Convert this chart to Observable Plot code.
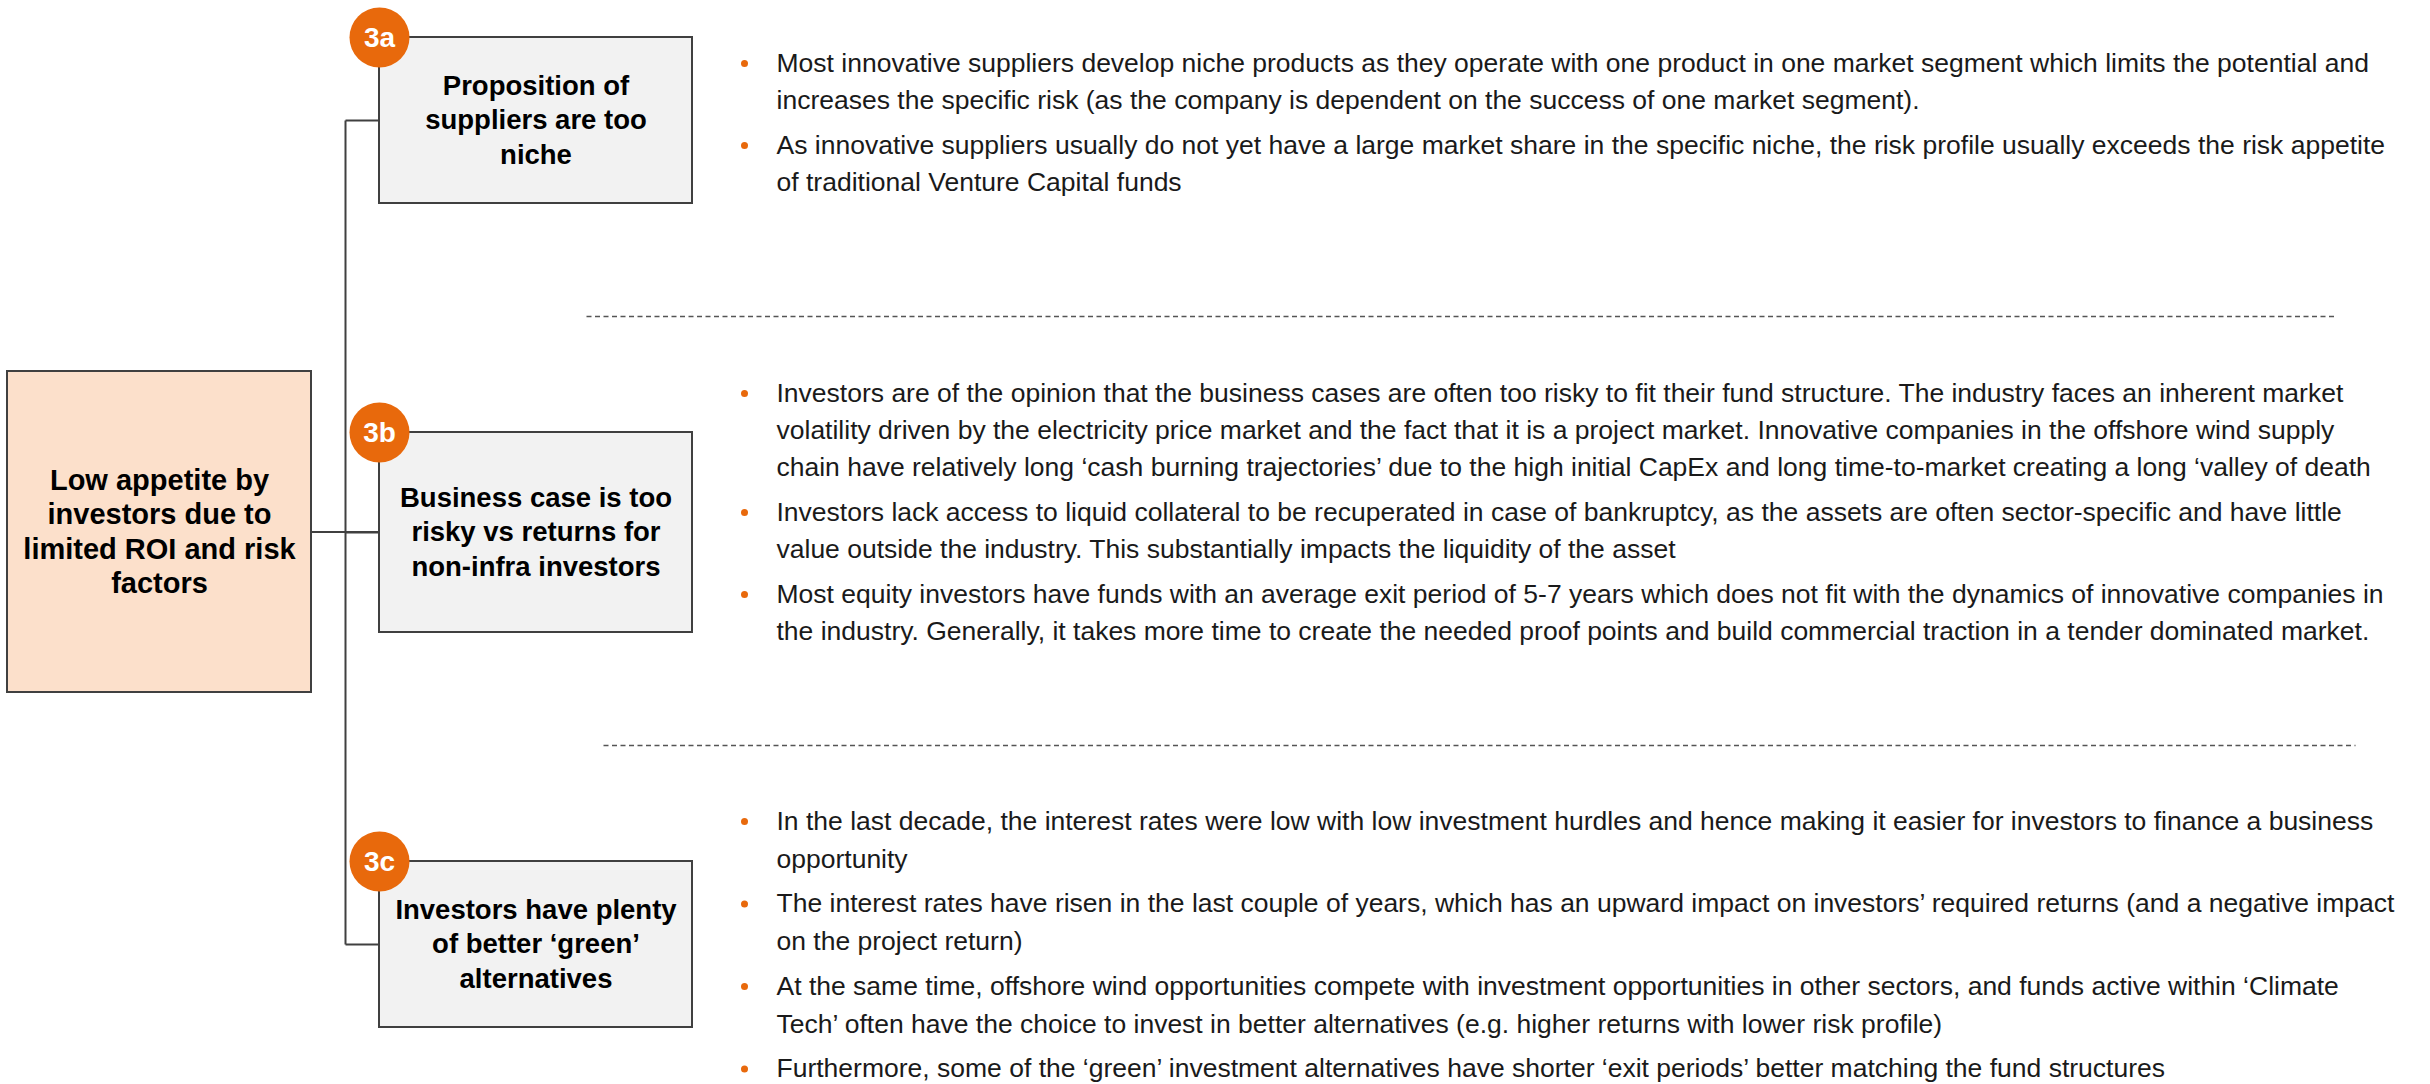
<!DOCTYPE html>
<html>
<head>
<meta charset="utf-8">
<script src="https://cdn.jsdelivr.net/npm/d3@7"></script>
<script src="https://cdn.jsdelivr.net/npm/@observablehq/plot@0.6"></script>
<style>
  html, body { margin: 0; padding: 0; background: #ffffff; }
  #chart svg { display: block; }
</style>
</head>
<body>
<div id="chart"></div>
<script>
// ---------- content ----------
const mainLabel = ["Low appetite by", "investors due to", "limited ROI and risk", "factors"];

const causeIds = ["3a", "3b", "3c"];

const causeLabels = [
  ["Proposition of", "suppliers are too", "niche"],
  ["Business case is too", "risky vs returns for", "non-infra investors"],
  ["Investors have plenty", "of better \u2018green\u2019", "alternatives"]
];

const bullets3a = [
  ["Most innovative suppliers develop niche products as they operate with one product in one market segment which limits the potential and",
   "increases the specific risk (as the company is dependent on the success of one market segment)."],
  ["As innovative suppliers usually do not yet have a large market share in the specific niche, the risk profile usually exceeds the risk appetite",
   "of traditional Venture Capital funds"]
];

const bullets3b = [
  ["Investors are of the opinion that the business cases are often too risky to fit their fund structure. The industry faces an inherent market",
   "volatility driven by the electricity price market and the fact that it is a project market. Innovative companies in the offshore wind supply",
   "chain have relatively long \u2018cash burning trajectories\u2019 due to the high initial CapEx and long time-to-market creating a long \u2018valley of death"],
  ["Investors lack access to liquid collateral to be recuperated in case of bankruptcy, as the assets are often sector-specific and have little",
   "value outside the industry. This substantially impacts the liquidity of the asset"],
  ["Most equity investors have funds with an average exit period of 5-7 years which does not fit with the dynamics of innovative companies in",
   "the industry. Generally, it takes more time to create the needed proof points and build commercial traction in a tender dominated market."]
];

const bullets3c = [
  ["In the last decade, the interest rates were low with low investment hurdles and hence making it easier for investors to finance a business",
   "opportunity"],
  ["The interest rates have risen in the last couple of years, which has an upward impact on investors\u2019 required returns (and a negative impact",
   "on the project return)"],
  ["At the same time, offshore wind opportunities compete with investment opportunities in other sectors, and funds active within \u2018Climate",
   "Tech\u2019 often have the choice to invest in better alternatives (e.g. higher returns with lower risk profile)"],
  ["Furthermore, some of the \u2018green\u2019 investment alternatives have shorter \u2018exit periods\u2019 better matching the fund structures"]
];

const bulletSections = [bullets3a, bullets3b, bullets3c];

// ---------- layout & style ----------
const W = 2430, H = 1084;
const FONT = "'Liberation Sans', Arial, Helvetica, sans-serif";
const ORANGE = "#E8690C";
const layout = {
  main: {x1: 7, x2: 311, y1: 371, y2: 692},
  boxX: [379, 692],
  boxY: [[37, 203], [432, 632], [861, 1027]],
  trunkX: 345,
  bulletX: 744,
  textX: 776,
  sectionTop: [63, 393, 821],
  lineH: [37, 37, 38],
  paraGap: [8, 8, 6.5],
  dividers: [{y: 316, x1: 586, x2: 2337}, {y: 745, x1: 603, x2: 2355}],
  labelLineH: 34.5,
  circleR: 30
};

// ---------- derived tables ----------
const boxes = causeIds.map((id, i) => ({
  id, label: causeLabels[i],
  x1: layout.boxX[0], x2: layout.boxX[1],
  y1: layout.boxY[i][0], y2: layout.boxY[i][1],
  cx: (layout.boxX[0] + layout.boxX[1]) / 2,
  cy: (layout.boxY[i][0] + layout.boxY[i][1]) / 2
}));
const main = {...layout.main, cx: (layout.main.x1 + layout.main.x2) / 2, cy: (layout.main.y1 + layout.main.y2) / 2};

function labelLines(lines, cx, cy, lh) {
  const n = lines.length;
  return lines.map((t, k) => ({text: t, x: cx, y: cy + (k - (n - 1) / 2) * lh}));
}
const boxLabelRows = boxes.flatMap(b => labelLines(b.label, b.cx, b.cy, layout.labelLineH));
const mainLabelRows = labelLines(mainLabel, main.cx, main.cy, layout.labelLineH);

const textRows = [];
const dotRows = [];
bulletSections.forEach((sec, s) => {
  let y = layout.sectionTop[s];
  sec.forEach((para, p) => {
    if (p > 0) y += layout.paraGap[s];
    dotRows.push({x: layout.bulletX, y});
    para.forEach((line) => {
      textRows.push({text: line, x: layout.textX, y});
      y += layout.lineH[s];
    });
  });
});

// connector lines
const connectors = [
  {x1: layout.trunkX, y1: boxes[0].cy, x2: layout.trunkX, y2: boxes[2].cy},
  {x1: main.x2, y1: main.cy, x2: boxes[1].x1, y2: main.cy},
  ...boxes.map(b => ({x1: layout.trunkX, y1: b.cy, x2: b.x1, y2: b.cy}))
];

const plot = Plot.plot({
  width: W,
  height: H,
  margin: 0,
  x: {domain: [0, W], range: [0, W], axis: null},
  y: {domain: [0, H], range: [0, H], axis: null},
  style: {fontFamily: FONT, background: "#ffffff"},
  marks: [
    Plot.link(connectors, {x1: "x1", y1: "y1", x2: "x2", y2: "y2", stroke: "#404040", strokeWidth: 2}),
    Plot.link(layout.dividers, {x1: "x1", x2: "x2", y1: "y", y2: "y", stroke: "#555555", strokeWidth: 1.5, strokeDasharray: "5,3.5"}),
    Plot.rect([main], {x1: "x1", x2: "x2", y1: "y1", y2: "y2", fill: "#FCE0CB", stroke: "#404040", strokeWidth: 2}),
    Plot.rect(boxes, {x1: "x1", x2: "x2", y1: "y1", y2: "y2", fill: "#F2F2F2", stroke: "#404040", strokeWidth: 2}),
    Plot.dot(boxes, {x: "x1", y: "y1", r: layout.circleR, fill: ORANGE, stroke: "none"}),
    Plot.text(boxes, {x: "x1", y: "y1", text: "id", fill: "#ffffff", fontSize: 28, fontWeight: "bold", lineAnchor: "middle", dy: 1}),
    Plot.text(mainLabelRows, {x: "x", y: "y", text: "text", fill: "#000000", fontSize: 29, fontWeight: "bold", lineAnchor: "middle", textAnchor: "middle"}),
    Plot.text(boxLabelRows, {x: "x", y: "y", text: "text", fill: "#000000", fontSize: 27.5, fontWeight: "bold", lineAnchor: "middle", textAnchor: "middle"}),
    Plot.dot(dotRows, {x: "x", y: "y", r: 3.5, fill: ORANGE, stroke: "none"}),
    Plot.text(textRows, {x: "x", y: "y", text: "text", fill: "#1a1a1a", fontSize: 26.5, lineAnchor: "middle", textAnchor: "start"})
  ]
});
document.getElementById("chart").appendChild(plot);
</script>
</body>
</html>
